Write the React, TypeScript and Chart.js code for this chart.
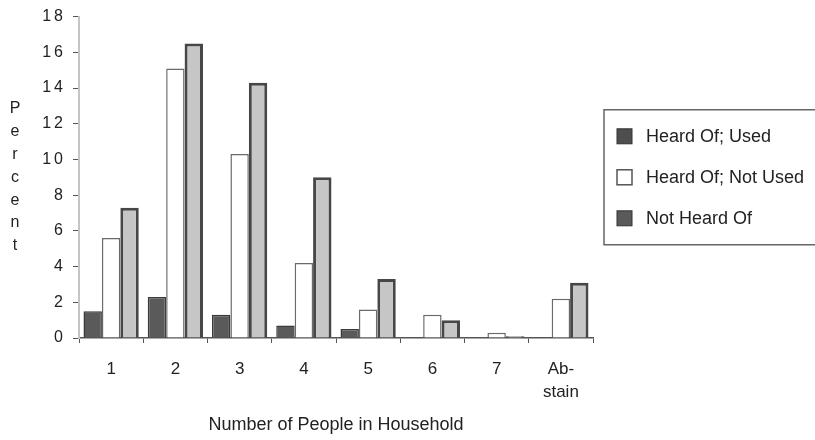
import React, { useEffect, useRef } from "react";
import { Chart, registerables } from "chart.js";

Chart.register(...registerables);

const categories: (string | string[])[] = ["1", "2", "3", "4", "5", "6", "7", ["Ab-", "stain"]];
const heardOfUsed: (number | null)[] = [1.5, 2.3, 1.3, 0.7, 0.5, null, null, null];
const heardOfNotUsed: number[] = [5.6, 15.1, 10.3, 4.2, 1.6, 1.3, 0.3, 2.2];
const notHeardOf: number[] = [7.3, 16.5, 14.3, 9.0, 3.3, 1.0, 0.1, 3.1];
const seriesLabels = ["Heard Of; Used", "Heard Of; Not Used", "Not Heard Of"];
const yMin = 0;
const yMax = 18;
const yStep = 2;
const yAxisTitle = "Percent";
const xAxisTitle = "Number of People in Household";

const FONT = "'Liberation Sans', Arial, Helvetica, sans-serif";

const swatches = [
  { fill: "#4e4e4e", stroke: "#333333", width: 1 },
  { fill: "#ffffff", stroke: "#555555", width: 1.5 },
  { fill: "#5a5a5a", stroke: "#333333", width: 1 },
];

const customPlugin = {
  id: "customDecor",
  beforeDraw(chart: any) {
    chart.ctx.letterSpacing = "0px";
  },
  afterDatasetsDraw(chart: any) {
    chart.ctx.letterSpacing = "3px";
  },
  afterDraw(chart: any) {
    const ctx = chart.ctx as CanvasRenderingContext2D;
    const area = chart.chartArea;
    ctx.save();
    (ctx as any).letterSpacing = "0px";
    // Stacked vertical y-axis title
    const midY = (area.top + area.bottom) / 2;
    ctx.font = `16px ${FONT}`;
    ctx.fillStyle = "#222";
    ctx.textAlign = "center";
    ctx.textBaseline = "middle";
    const letters = yAxisTitle.split("");
    const step = 22.8;
    letters.forEach((ch, i) => {
      ctx.fillText(ch, 15, midY + (i - (letters.length - 1) / 2) * step);
    });

    // Legend box
    const boxLeft = area.right + 11;
    const boxTop = midY - 67.5;
    const boxBottom = midY + 67.5;
    ctx.strokeStyle = "#666";
    ctx.lineWidth = 1.5;
    ctx.beginPath();
    ctx.moveTo(chart.width + 5, boxTop);
    ctx.lineTo(boxLeft, boxTop);
    ctx.lineTo(boxLeft, boxBottom);
    ctx.lineTo(chart.width + 5, boxBottom);
    ctx.stroke();

    ctx.font = `18px ${FONT}`;
    ctx.textAlign = "left";
    const itemYs = [midY - 41, midY, midY + 41];
    chart.data.datasets.forEach((ds: any, i: number) => {
      const y = itemYs[i];
      const sw = swatches[i];
      const sx = boxLeft + 13;
      const size = 15;
      ctx.fillStyle = sw.fill;
      ctx.fillRect(sx, y - size / 2, size, size);
      ctx.strokeStyle = sw.stroke;
      ctx.lineWidth = sw.width;
      ctx.strokeRect(sx, y - size / 2, size, size);
      ctx.fillStyle = "#222";
      ctx.fillText(ds.label, boxLeft + 42, y + 1);
    });
    ctx.restore();
  },
};

export default function App() {
  const canvasRef = useRef<HTMLCanvasElement | null>(null);

  useEffect(() => {
    document.body.style.margin = "0";
    const canvas = canvasRef.current;
    if (!canvas) return;
    const chart = new Chart(canvas, {
      type: "bar",
      data: {
        labels: categories as any,
        datasets: [
          {
            label: seriesLabels[0],
            data: heardOfUsed as any,
            backgroundColor: "#5a5a5a",
            borderColor: "#3a3a3a",
            borderWidth: 1.5,
          },
          {
            label: seriesLabels[1],
            data: heardOfNotUsed,
            backgroundColor: "#ffffff",
            borderColor: "#6a6a6a",
            borderWidth: 1.5,
          },
          {
            label: seriesLabels[2],
            data: notHeardOf,
            backgroundColor: "#c6c6c6",
            borderColor: "#474747",
            borderWidth: 3,
          },
        ],
      },
      options: {
        responsive: false,
        animation: false,
        layout: { padding: { left: 0, right: 222, top: 16, bottom: 0 } },
        datasets: {
          bar: { categoryPercentage: 0.86, barPercentage: 1.0 },
        },
        plugins: {
          legend: { display: false },
          tooltip: { enabled: false },
          title: { display: false },
        },
        scales: {
          x: {
            offset: true,
            grid: {
              offset: true,
              drawOnChartArea: false,
              drawTicks: true,
              tickLength: 5,
              color: "#555",
            },
            border: { display: true, color: "#555", width: 1.5 },
            ticks: {
              color: "#222",
              font: { family: FONT, size: 17, lineHeight: 1.4 },
              padding: 14,
              maxRotation: 0,
              autoSkip: false,
            },
            title: {
              display: true,
              text: xAxisTitle,
              color: "#222",
              font: { family: FONT, size: 18, lineHeight: 1.2 },
              padding: { top: 0, bottom: 4 },
            },
            afterFit(scale: any) {
              scale.height = 102;
            },
          },
          y: {
            min: yMin,
            max: yMax,
            ticks: {
              z: 1,
              stepSize: yStep,
              color: "#222",
              font: { family: FONT, size: 16 },
              padding: 7,
            },
            grid: {
              drawOnChartArea: false,
              drawTicks: true,
              tickLength: 6,
              color: "#555",
            },
            border: { display: true, color: "#c4c4c4", width: 2 },
            afterFit(scale: any) {
              scale.width = 79;
            },
          },
        },
      },
      plugins: [customPlugin],
    });
    return () => chart.destroy();
  }, []);

  return (
    <div style={{ width: 815, height: 440, background: "#fff" }}>
      <canvas ref={canvasRef} width={815} height={440} style={{ display: "block" }} />
    </div>
  );
}
